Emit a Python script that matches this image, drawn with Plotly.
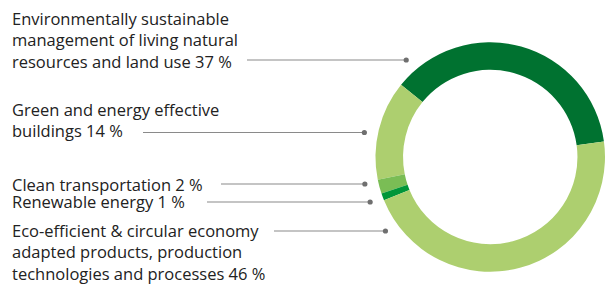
import math
import plotly.graph_objects as go

categories = [
    "Environmentally sustainable<br>management of living natural<br>resources and land use",
    "Green and energy effective<br>buildings",
    "Clean transportation",
    "Renewable energy",
    "Eco-efficient & circular economy<br>adapted products, production<br>technologies and processes",
]
shares = [37, 14, 2, 1, 46]
colors = ["#007230", "#ADCF6F", "#7ABD55", "#009639", "#ADCF6F"]

W, H = 605, 284
# donut geometry (pixels)
cx, cy, R = 490.5, 157.0, 115.0
hole = 0.76

fig = go.Figure(go.Pie(
    values=shares,
    labels=[c.replace("<br>", " ") for c in categories],
    sort=False,
    direction="counterclockwise",
    rotation=-51,
    hole=hole,
    marker=dict(colors=colors, line=dict(width=0)),
    textinfo="none",
    hoverinfo="label+percent",
    showlegend=False,
    domain=dict(x=[(cx - R) / W, 1.0], y=[1 - (cy + R) / H, 1 - (cy - R) / H]),
))

# label layout: (top y of text block, leader y, leader start x)
label_top = [4.5, 95.5, 170.5, 188.5, 216.5]
leader_y = [60, 132.5, 184, 202, 231]
leader_x0 = [247, 143, 221, 207, 274]
r_dot = 128.5

shapes = []
annotations = []
for cat, v, ty, ly, lx in zip(categories, shares, label_top, leader_y, leader_x0):
    annotations.append(dict(
        x=10 / W, y=1 - ty / H, xref="paper", yref="paper",
        xanchor="left", yanchor="top", align="left",
        text=f"{cat} {v} %", showarrow=False,
        font=dict(family="Open Sans", size=16.5, color="#222222"),
    ))
    dx = math.sqrt(r_dot ** 2 - (ly - cy) ** 2)
    xd = cx - dx
    shapes.append(dict(type="line", xref="paper", yref="paper",
                       x0=lx / W, x1=xd / W, y0=1 - ly / H, y1=1 - ly / H,
                       line=dict(color="#8a8a8a", width=1.2)))
    shapes.append(dict(type="circle", xref="paper", yref="paper",
                       x0=(xd - 2.6) / W, x1=(xd + 2.6) / W,
                       y0=1 - (ly + 2.6) / H, y1=1 - (ly - 2.6) / H,
                       fillcolor="#6f6f6f", line=dict(width=0)))

fig.update_layout(
    width=W, height=H,
    margin=dict(l=0, r=0, t=0, b=0),
    paper_bgcolor="white", plot_bgcolor="white",
    shapes=shapes, annotations=annotations,
)
fig.write_html("out.html", config={"displayModeBar": False},
               post_script="document.body.style.margin='0';")
